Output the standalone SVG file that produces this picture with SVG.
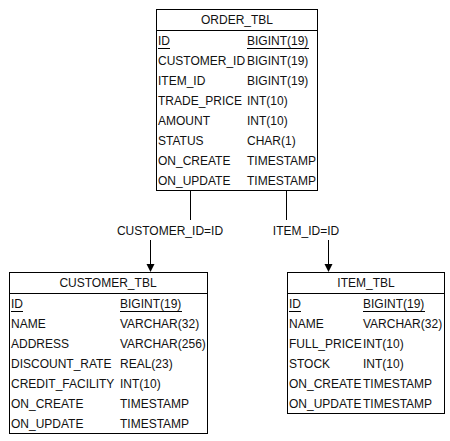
<svg xmlns="http://www.w3.org/2000/svg" width="450" height="441" viewBox="0 0 450 441">
<style>
.box{fill:#fff;stroke:#000;stroke-width:1}
.sep{stroke:#000;stroke-width:1}
text{font-family:"Liberation Sans",Arial,sans-serif;font-size:12px;fill:#111}
.h{text-anchor:middle}
.c{text-anchor:middle}
.u{stroke:#000;stroke-width:1}
.con{stroke:#000;stroke-width:1;fill:none}
</style>
<rect width="450" height="441" fill="#fff"/>
<g id="connectors">
<line class="con" x1="190.5" y1="190" x2="190.5" y2="220"/>
<line class="con" x1="150.5" y1="240" x2="150.5" y2="264"/>
<path d="M146.5,264 L154.5,264 L150.5,272 Z" fill="#000"/>
<text class="c" x="170" y="235">CUSTOMER_ID=ID</text>
<line class="con" x1="286.5" y1="190" x2="286.5" y2="220"/>
<line class="con" x1="328.5" y1="240" x2="328.5" y2="264"/>
<path d="M324.5,264 L332.5,264 L328.5,272 Z" fill="#000"/>
<text class="c" x="306" y="235">ITEM_ID=ID</text>
</g>
<g id="ORDER_TBL">
<rect class="box" x="156.5" y="9.5" width="161" height="181"/>
<line class="sep" x1="156.5" y1="30.5" x2="317.5" y2="30.5"/>
<text class="h" x="237" y="24">ORDER_TBL</text>
<text x="158" y="45">ID</text><text x="247" y="45">BIGINT(19)</text>
<line class="u" x1="158" y1="48.5" x2="170" y2="48.5"/><line class="u" x1="247" y1="48.5" x2="309" y2="48.5"/>
<text x="158" y="65">CUSTOMER_ID</text><text x="247" y="65">BIGINT(19)</text>
<text x="158" y="85">ITEM_ID</text><text x="247" y="85">BIGINT(19)</text>
<text x="158" y="105">TRADE_PRICE</text><text x="247" y="105">INT(10)</text>
<text x="158" y="125">AMOUNT</text><text x="247" y="125">INT(10)</text>
<text x="158" y="145">STATUS</text><text x="247" y="145">CHAR(1)</text>
<text x="158" y="165">ON_CREATE</text><text x="247" y="165">TIMESTAMP</text>
<text x="158" y="185">ON_UPDATE</text><text x="247" y="185">TIMESTAMP</text>
</g>
<g id="CUSTOMER_TBL">
<rect class="box" x="9.5" y="272.5" width="198" height="161"/>
<line class="sep" x1="9.5" y1="293.5" x2="207.5" y2="293.5"/>
<text class="h" x="108" y="287">CUSTOMER_TBL</text>
<text x="11" y="308">ID</text><text x="120" y="308">BIGINT(19)</text>
<line class="u" x1="11" y1="311.5" x2="23" y2="311.5"/><line class="u" x1="120" y1="311.5" x2="182" y2="311.5"/>
<text x="11" y="328">NAME</text><text x="120" y="328">VARCHAR(32)</text>
<text x="11" y="348">ADDRESS</text><text x="120" y="348">VARCHAR(256)</text>
<text x="11" y="368">DISCOUNT_RATE</text><text x="120" y="368">REAL(23)</text>
<text x="11" y="388">CREDIT_FACILITY</text><text x="120" y="388">INT(10)</text>
<text x="11" y="408">ON_CREATE</text><text x="120" y="408">TIMESTAMP</text>
<text x="11" y="428">ON_UPDATE</text><text x="120" y="428">TIMESTAMP</text>
</g>
<g id="ITEM_TBL">
<rect class="box" x="287.5" y="272.5" width="157" height="141"/>
<line class="sep" x1="287.5" y1="293.5" x2="444.5" y2="293.5"/>
<text class="h" x="366" y="287">ITEM_TBL</text>
<text x="289" y="308">ID</text><text x="363" y="308">BIGINT(19)</text>
<line class="u" x1="289" y1="311.5" x2="301" y2="311.5"/><line class="u" x1="363" y1="311.5" x2="425" y2="311.5"/>
<text x="289" y="328">NAME</text><text x="363" y="328">VARCHAR(32)</text>
<text x="289" y="348">FULL_PRICE</text><text x="363" y="348">INT(10)</text>
<text x="289" y="368">STOCK</text><text x="363" y="368">INT(10)</text>
<text x="289" y="388">ON_CREATE</text><text x="363" y="388">TIMESTAMP</text>
<text x="289" y="408">ON_UPDATE</text><text x="363" y="408">TIMESTAMP</text>
</g>
</svg>
